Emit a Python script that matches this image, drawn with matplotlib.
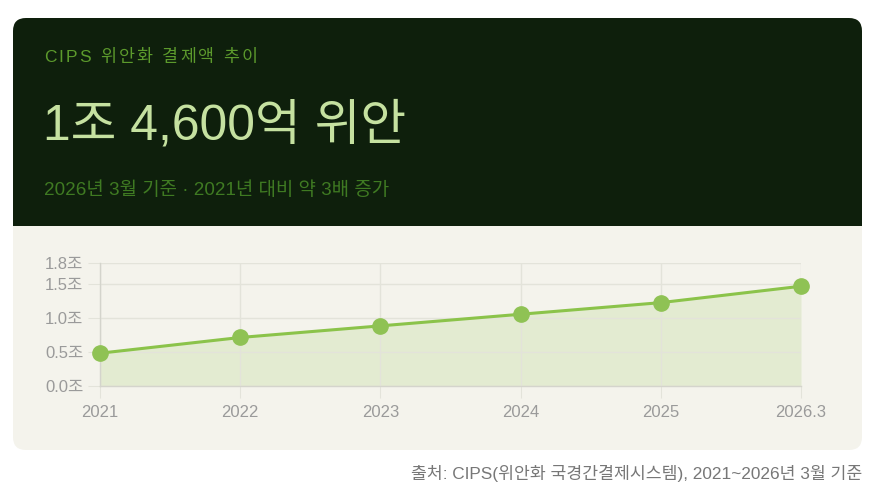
import matplotlib
matplotlib.use("Agg")
import matplotlib.pyplot as plt
from matplotlib.patches import FancyBboxPatch, Rectangle

plt.rcParams['font.family'] = ['Liberation Sans', 'Noto Sans CJK KR', 'DejaVu Sans']

# ---- data ----
categories = ["2021", "2022", "2023", "2024", "2025", "2026.3"]
values = [0.48, 0.71, 0.88, 1.05, 1.22, 1.46]  # 조 위안
ytick_values = [0.0, 0.5, 1.0, 1.5, 1.8]
ytick_labels = ["0.0조", "0.5조", "1.0조", "1.5조", "1.8조"]
title_small = "CIPS 위안화 결제액 추이"
title_big = "1조 4,600억 위안"
subtitle = "2026년 3월 기준 · 2021년 대비 약 3배 증가"
source = "출처: CIPS(위안화 국경간결제시스템), 2021~2026년 3월 기준"

W, H = 882, 501
fig = plt.figure(figsize=(W / 100, H / 100), dpi=100)
fig.patch.set_facecolor("white")

# background axes in pixel coordinates
bg = fig.add_axes([0, 0, 1, 1], zorder=0)
bg.set_xlim(0, W)
bg.set_ylim(H, 0)
bg.axis("off")

DARK = "#0e1f0c"
LIGHT = "#f4f3ec"
card_l, card_r, card_t, card_b = 13, 862, 18, 450
split = 226
r = 13

bg.add_patch(FancyBboxPatch((card_l + r, card_t + r), (card_r - card_l) - 2 * r, (card_b - card_t) - 2 * r,
                            boxstyle=f"round,pad={r}", fc=LIGHT, ec="none"))
bg.add_patch(FancyBboxPatch((card_l + r, card_t + r), (card_r - card_l) - 2 * r, (split + 30 - card_t) - 2 * r,
                            boxstyle=f"round,pad={r}", fc=DARK, ec="none"))
bg.add_patch(Rectangle((card_l, split), card_r - card_l, 40, fc=LIGHT, ec="none"))

# letter-spaced small title
renderer = fig.canvas.get_renderer()
fs_small = 12.5
x = 44
spacing = 2.2
for ch in title_small:
    if ch == " ":
        x += 0.278 * fs_small * 100 / 72 + spacing
        continue
    t = bg.text(x, 62, ch, fontsize=fs_small, color="#5c9a2c", ha="left", va="baseline")
    w = t.get_window_extent(renderer).width
    x += w + spacing

bg.text(43, 140, title_big, fontsize=35.8, color="#c5e1a0", ha="left", va="baseline")
bg.text(44, 195, subtitle, fontsize=13.6, color="#3f7a22", ha="left", va="baseline")
bg.text(862, 479, source, fontsize=12.4, color="#777777", ha="right", va="baseline")

# chart axes
pl, pr, pt, pb = 100, 801, 263, 386
ax = fig.add_axes([pl / W, (H - pb) / H, (pr - pl) / W, (pb - pt) / H], zorder=1)
ax.patch.set_alpha(0)

xs = list(range(len(categories)))
LINE = "#8bc34a"
ax.fill_between(xs, values, 0, color=LINE, alpha=0.16, lw=0, zorder=1)
ax.plot(xs, values, color=LINE, lw=2.2, zorder=3, clip_on=False)
ax.plot(xs, values, ls="none", marker="o", ms=11, color="#8fc254", zorder=4, clip_on=False)

ax.set_xlim(0, len(categories) - 1)
ax.set_ylim(0, 1.8)
ax.set_xticks(xs)
ax.set_xticklabels(categories)
ax.set_yticks(ytick_values)
ax.set_yticklabels(ytick_labels)

GRID = "#e3e3da"
ax.grid(True, color=GRID, lw=1, zorder=0)
for s in ["top", "right"]:
    ax.spines[s].set_visible(False)
for s in ["left", "bottom"]:
    ax.spines[s].set_color("#d4d4cc")
    ax.spines[s].set_linewidth(1)
ax.tick_params(axis="both", length=8.5, width=0.75, color=GRID, labelcolor="#9a9a9a", labelsize=12)
ax.tick_params(axis="x", pad=5.5)
ax.tick_params(axis="y", pad=3.5)

fig.savefig("out.png", dpi=100, facecolor=fig.get_facecolor())
